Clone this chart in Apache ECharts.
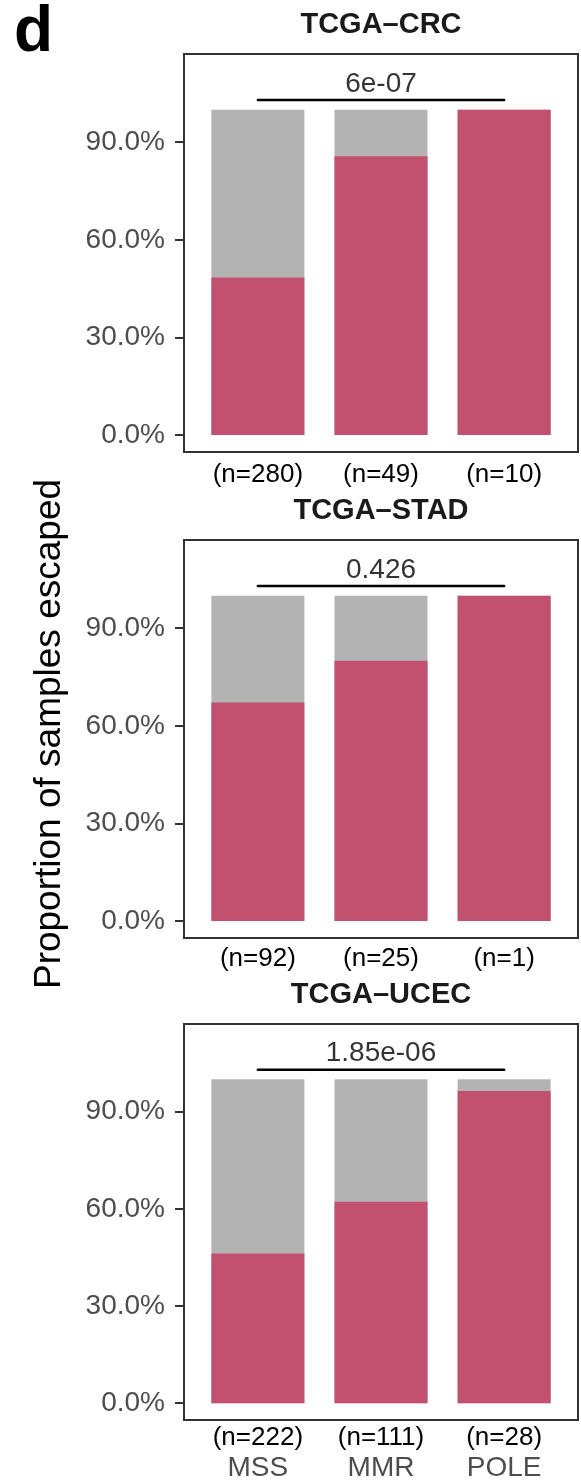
<!DOCTYPE html>
<html>
<head>
<meta charset="utf-8">
<title>Proportion of samples escaped</title>
<script src="https://cdn.jsdelivr.net/npm/echarts@6/dist/echarts.min.js"></script>
<style>
  html, body { margin: 0; padding: 0; background: #fff; }
  #chart { width: 581px; height: 1482px; }
</style>
</head>
<body>
<div id="chart"></div>
<script>
// Microsatellite / polymerase status groups
const categories = ['MSS', 'MMR', 'POLE'];

// Cohorts, one panel each
const cohorts = ['TCGA\u2013CRC', 'TCGA\u2013STAD', 'TCGA\u2013UCEC'];

// Share of samples escaped (red) and not escaped (grey), per group
const escapedCRC = [0.484, 0.857, 1.0];
const notEscapedCRC = [0.516, 0.143, 0.0];
const escapedSTAD = [0.672, 0.800, 1.0];
const notEscapedSTAD = [0.328, 0.200, 0.0];
const escapedUCEC = [0.462, 0.622, 0.964];
const notEscapedUCEC = [0.538, 0.378, 0.036];

// Sample counts per group
const nCRC = [280, 49, 10];
const nSTAD = [92, 25, 1];
const nUCEC = [222, 111, 28];

// Test p-values drawn over the MSS–POLE bracket
const pValues = ['6e-07', '0.426', '1.85e-06'];

// Y tick values
const yTicks = [0, 0.3, 0.6, 0.9];

const escaped = [escapedCRC, escapedSTAD, escapedUCEC];
const notEscaped = [notEscapedCRC, notEscapedSTAD, notEscapedUCEC];
const counts = [nCRC, nSTAD, nUCEC];

const FONT = '"Liberation Sans", Arial, Helvetica, sans-serif';
const RED = '#C25170';
const GREY = '#B3B3B3';
const BORDER = '#333333';
const TICK_TEXT = '#4D4D4D';

const gridTops = [54, 540, 1024];
const gridH = 398;
const gridLeft = 184;
const gridRight = 3;
const labelMargins = [8, 6, 3];
const bracketY = 1.03;
const xPos = [1, 2, 3];

const grids = [], xAxes = [], yAxes = [], series = [], graphics = [];

cohorts.forEach((name, i) => {
  grids.push({
    left: gridLeft, right: gridRight, top: gridTops[i], height: gridH,
    show: true, borderColor: BORDER, borderWidth: 2, backgroundColor: '#fff'
  });
  const lastPanel = i === cohorts.length - 1;
  xAxes.push({
    gridIndex: i, type: 'value', min: 0.4, max: 3.6,
    axisLine: { show: false }, axisTick: { show: false }, splitLine: { show: false },
    axisLabel: {
      customValues: xPos,
      margin: labelMargins[i],
      formatter: (v) => {
        const k = Math.round(v) - 1;
        const nText = '{n|(n=' + counts[i][k] + ')}';
        return lastPanel ? nText + '\n{c|' + categories[k] + '}' : nText;
      },
      rich: {
        n: { fontFamily: FONT, fontSize: 26, color: '#000', lineHeight: 30 },
        c: { fontFamily: FONT, fontSize: 28, color: TICK_TEXT, lineHeight: 30 }
      }
    }
  });
  yAxes.push({
    gridIndex: i, type: 'value', min: -0.052, max: 1.171,
    axisLine: { show: false }, splitLine: { show: false },
    axisTick: { show: true, customValues: yTicks, length: 9, lineStyle: { color: BORDER, width: 2 } },
    axisLabel: {
      customValues: yTicks, margin: 19,
      fontFamily: FONT, fontSize: 28, color: TICK_TEXT,
      formatter: (v) => (v * 100).toFixed(1) + '%'
    }
  });
  // Full column (escaped + not escaped) in grey, escaped share in red on top of it
  series.push({
    type: 'bar', name: 'Not escaped', xAxisIndex: i, yAxisIndex: i,
    barWidth: 93, barGap: '-100%', itemStyle: { color: GREY }, silent: true, z: 2,
    data: xPos.map((x, k) => [x, escaped[i][k] + notEscaped[i][k]])
  });
  series.push({
    type: 'bar', name: 'Escaped', xAxisIndex: i, yAxisIndex: i,
    barWidth: 93, barGap: '-100%', itemStyle: { color: RED }, silent: true, z: 3,
    data: xPos.map((x, k) => [x, escaped[i][k]])
  });
  // Comparison bracket between the first and last group
  series.push({
    type: 'line', xAxisIndex: i, yAxisIndex: i, symbol: 'none', silent: true, z: 4,
    lineStyle: { color: '#000', width: 2.5, cap: 'round' },
    data: [[1, bracketY], [3, bracketY]]
  });
  series.push({
    type: 'scatter', xAxisIndex: i, yAxisIndex: i, symbolSize: 0, silent: true, z: 4,
    label: {
      show: true, position: 'top', distance: 2,
      fontFamily: FONT, fontSize: 28, color: '#000',
      formatter: pValues[i]
    },
    data: [[2, bracketY]]
  });
  // Panel heading
  graphics.push({
    type: 'text', x: gridLeft + (581 - gridLeft - gridRight) / 2, y: gridTops[i] - 29.5,
    style: {
      text: name, fontFamily: FONT, fontSize: 29, fontWeight: 'bold', fill: '#1a1a1a',
      align: 'center', verticalAlign: 'middle'
    }
  });
});

// Shared y-axis title
graphics.push({
  type: 'text', x: 50, y: 734, rotation: Math.PI / 2,
  style: {
    text: 'Proportion of samples escaped', fontFamily: FONT, fontSize: 37, fill: '#000',
    align: 'center', verticalAlign: 'middle'
  }
});
// Figure panel letter
graphics.push({
  type: 'text', x: 14, y: 33,
  style: {
    text: 'd', fontFamily: FONT, fontSize: 64, fontWeight: 'bold', fill: '#000',
    align: 'left', verticalAlign: 'middle'
  }
});

const chart = echarts.init(document.getElementById('chart'), null, { renderer: 'canvas' });
chart.setOption({
  animation: false,
  backgroundColor: '#fff',
  grid: grids,
  xAxis: xAxes,
  yAxis: yAxes,
  series: series,
  graphic: graphics
});
</script>
</body>
</html>
